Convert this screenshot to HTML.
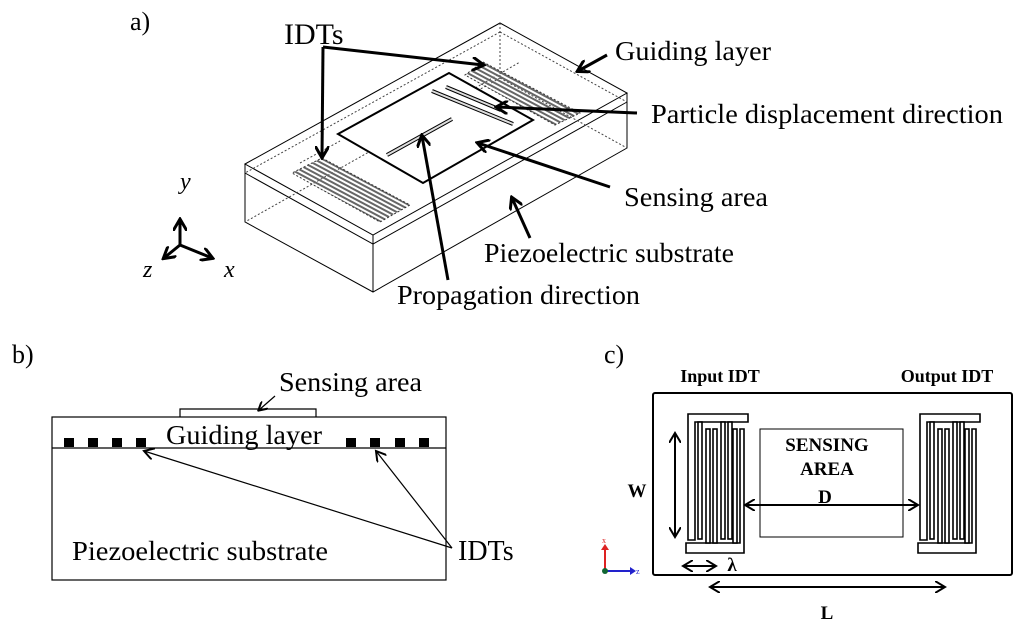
<!DOCTYPE html>
<html><head><meta charset="utf-8"><style>
html,body{margin:0;padding:0;background:#fff;}
svg{display:block;}
text{font-family:"Liberation Serif",serif;fill:#000;}
.b{font-weight:bold;}
</style></head><body>
<svg width="1024" height="628" viewBox="0 0 1024 628" xmlns="http://www.w3.org/2000/svg">
<defs>
<marker id="ah" markerWidth="10" markerHeight="10" refX="8" refY="5" orient="auto" markerUnits="userSpaceOnUse"><path d="M0,0 L9,5 L0,10" fill="none" stroke="#000" stroke-width="2"/></marker>
<marker id="ah2" markerWidth="14" markerHeight="14" refX="11" refY="7" orient="auto" markerUnits="userSpaceOnUse"><path d="M0,0 L12,7 L0,14" fill="none" stroke="#000" stroke-width="3"/></marker>
<marker id="ah3" markerWidth="12" markerHeight="12" refX="10" refY="6" orient="auto" markerUnits="userSpaceOnUse"><path d="M0,0 L10,6 L0,12" fill="none" stroke="#000" stroke-width="2"/></marker>
<pattern id="hat" width="4" height="4" patternUnits="userSpaceOnUse" patternTransform="rotate(28)"><rect width="4" height="2" fill="#666"/></pattern>
</defs>

<!-- a) -->
<text x="130" y="30" font-size="26">a)</text>
<g fill="none" stroke="#000" stroke-width="1">
<path d="M245,164 L500,23 L627,93 L373,235 Z"/>
<path d="M245,164 L245,222 L373,292 L627,148 L627,93"/>
<path d="M373,235 L373,292"/>
<path d="M245,173 L373,244 L627,102"/>
<g stroke-dasharray="2,2" stroke="#444">
<path d="M500,23 L500,78"/>
<path d="M500,32 L245,173"/>
<path d="M500,32 L627,102"/>
<path d="M500,78 L245,222"/>
<path d="M500,78 L627,148"/>
<path d="M300,163 L340,141 M420,120 L520,62"/>
</g>
</g>
<path d="M322,158 L410,205 L380,222 L292,173 Z" fill="url(#hat)" stroke="#333" stroke-dasharray="2,2" stroke-width="1"/>
<path d="M483,62 L580,113 L555,125 L465,75 Z" fill="url(#hat)" stroke="#333" stroke-dasharray="2,2" stroke-width="1"/>
<path d="M338,134 L449,73 L533,120 L423,183 Z" fill="#fff" stroke="#000" stroke-width="2"/>
<path d="M387,155 L452,119" stroke="#000" stroke-width="4"/><path d="M387,155 L452,119" stroke="#ddd" stroke-width="2"/>
<path d="M432,91 L513,124" stroke="#000" stroke-width="4"/><path d="M432,91 L513,124" stroke="#ddd" stroke-width="2"/>
<path d="M446,87 L501,110" stroke="#000" stroke-width="4"/><path d="M446,87 L501,110" stroke="#ddd" stroke-width="2"/>
<g fill="none" stroke="#000" stroke-width="3">
<path d="M323,47 L483,65" marker-end="url(#ah2)"/>
<path d="M323,47 L322,157" marker-end="url(#ah2)"/>
<path d="M607,55 L578,71" marker-end="url(#ah2)"/>
<path d="M637,113 L497,107" marker-end="url(#ah2)"/>
<path d="M610,187 L478,143" marker-end="url(#ah2)"/>
<path d="M530,238 L512,198" marker-end="url(#ah2)"/>
<path d="M448,280 L422,136" marker-end="url(#ah2)"/>
<path d="M180,245 L180,220" marker-end="url(#ah2)"/>
<path d="M180,245 L164,258" marker-end="url(#ah2)"/>
<path d="M180,245 L212,258" marker-end="url(#ah2)"/>
</g>
<text x="284" y="44" font-size="30">IDTs</text>
<text x="615" y="60" font-size="27" textLength="156" lengthAdjust="spacingAndGlyphs">Guiding layer</text>
<text x="651" y="123" font-size="27" textLength="352" lengthAdjust="spacingAndGlyphs">Particle displacement direction</text>
<text x="624" y="206" font-size="27" textLength="144" lengthAdjust="spacingAndGlyphs">Sensing area</text>
<text x="484" y="262" font-size="27" textLength="250" lengthAdjust="spacingAndGlyphs">Piezoelectric substrate</text>
<text x="397" y="304" font-size="27" textLength="243" lengthAdjust="spacingAndGlyphs">Propagation direction</text>
<text x="180" y="189" font-size="24" font-style="italic">y</text>
<text x="143" y="277" font-size="24" font-style="italic">z</text>
<text x="224" y="277" font-size="24" font-style="italic">x</text>

<!-- b) -->
<text x="12" y="363" font-size="26">b)</text>
<g fill="none" stroke="#000" stroke-width="1.2">
<rect x="52" y="417" width="394" height="163"/>
<path d="M52,448 L446,448"/>
<path d="M180,417 L180,409 L316,409 L316,417"/>
<path d="M275,396 L259,410" marker-end="url(#ah)"/>
<path d="M452,548 L144,451" marker-end="url(#ah3)"/>
<path d="M452,548 L376,451" marker-end="url(#ah3)"/>
</g>
<g fill="#000">
<rect x="64" y="438" width="10" height="9"/><rect x="88" y="438" width="10" height="9"/><rect x="112" y="438" width="10" height="9"/><rect x="136" y="438" width="10" height="9"/>
<rect x="346" y="438" width="10" height="9"/><rect x="370" y="438" width="10" height="9"/><rect x="395" y="438" width="10" height="9"/><rect x="419" y="438" width="10" height="9"/>
</g>
<text x="279" y="391" font-size="27" textLength="143" lengthAdjust="spacingAndGlyphs">Sensing area</text>
<text x="166" y="444" font-size="27" textLength="156" lengthAdjust="spacingAndGlyphs">Guiding layer</text>
<text x="72" y="560" font-size="27" textLength="256" lengthAdjust="spacingAndGlyphs">Piezoelectric substrate</text>
<text x="458" y="560" font-size="28">IDTs</text>

<!-- c) -->
<text x="604" y="363" font-size="26">c)</text>
<text x="720" y="382" font-size="18" class="b" text-anchor="middle">Input IDT</text>
<text x="947" y="382" font-size="18" class="b" text-anchor="middle">Output IDT</text>
<rect x="653" y="393" width="359" height="182" fill="none" stroke="#000" stroke-width="2" rx="2"/>
<rect x="760" y="429" width="143" height="108" fill="none" stroke="#000" stroke-width="1"/>
<text x="827" y="451" font-size="19" class="b" text-anchor="middle">SENSING</text>
<text x="827" y="475" font-size="19" class="b" text-anchor="middle">AREA</text>
<text x="825" y="503" font-size="19" class="b" text-anchor="middle">D</text>
<text x="637" y="497" font-size="19" class="b" text-anchor="middle">W</text>
<text x="732" y="571" font-size="19" class="b" text-anchor="middle">λ</text>
<text x="827" y="619" font-size="19" class="b" text-anchor="middle">L</text>
<g id="idt" fill="#fff" stroke="#000" stroke-width="1.6">
<path d="M688,414 L748,414 L748,422 L695,422 L695,540 L688,540 Z"/>
<rect x="698" y="422" width="4" height="117"/>
<rect x="721" y="422" width="4" height="117"/><rect x="728" y="422" width="4" height="117"/>
<path d="M686,553 L744,553 L744,429 L740,429 L740,543 L686,543 Z"/>
<rect x="706" y="429" width="4" height="114"/><rect x="713" y="429" width="4" height="114"/>
<rect x="733" y="429" width="4" height="114"/>
</g>
<use href="#idt" transform="translate(232,0)"/>
<g fill="none" stroke="#000" stroke-width="2">
<path d="M675,485 L675,433" marker-end="url(#ah3)"/><path d="M675,485 L675,537" marker-end="url(#ah3)"/>
<path d="M830,505 L745,505" marker-end="url(#ah3)"/><path d="M830,505 L918,505" marker-end="url(#ah3)"/>
<path d="M700,566 L683,566" marker-end="url(#ah3)"/><path d="M700,566 L716,566" marker-end="url(#ah3)"/>
<path d="M828,587 L710,587" marker-end="url(#ah3)"/><path d="M828,587 L945,587" marker-end="url(#ah3)"/>
</g>
<path d="M605,571 L605,548" stroke="#d22" stroke-width="2"/><path d="M601,550 L605,544 L609,550 Z" fill="#d22"/>
<path d="M605,571 L632,571" stroke="#22c" stroke-width="2"/><path d="M630,567 L636,571 L630,575 Z" fill="#22c"/>
<circle cx="605" cy="571" r="3" fill="#163"/>
<text x="602" y="543" font-size="8" style="fill:#d22">x</text>
<text x="636" y="574" font-size="8" style="fill:#22c">z</text>
</svg>
</body></html>
